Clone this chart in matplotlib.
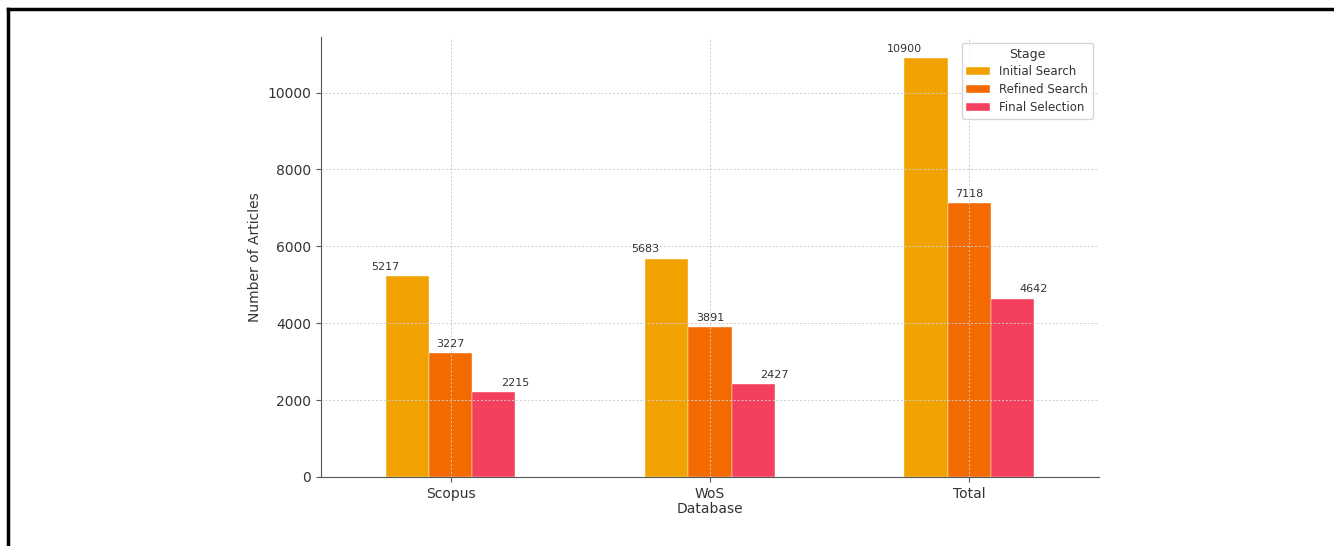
import matplotlib.pyplot as plt
import matplotlib.lines as mlines
import numpy as np

databases = ["Scopus", "WoS", "Total"]
stages = ["Initial Search", "Refined Search", "Final Selection"]
initial = [5217, 5683, 10900]
refined = [3227, 3891, 7118]
final = [2215, 2427, 4642]
colors = ["#F2A200", "#F26A00", "#F43F5E"]

values = [initial, refined, final]
text_col = "#333333"

fig = plt.figure(figsize=(13.34, 5.46), dpi=100)
ax = fig.add_axes([0.2406, 0.1264, 0.5832, 0.8058])

x = np.arange(len(databases))
w = 0.5 / 3
for j, (stage, vals) in enumerate(zip(stages, values)):
    ax.bar(x + (j - 1) * w, vals, width=w, color=colors[j], label=stage,
           edgecolor="white", linewidth=0.3)
    for i, v in enumerate(vals):
        ax.annotate(str(v), (x[i] + (j - 1) * 0.25, v), xytext=(0, 3),
                    textcoords="offset points", ha="center", va="bottom",
                    fontsize=8, color=text_col)

ax.set_xlim(-0.5, 2.5)
ax.set_ylim(0, 11445)
ax.set_xticks(x)
ax.set_xticklabels(databases)
ax.set_yticks([0, 2000, 4000, 6000, 8000, 10000])
ax.tick_params(labelsize=10, colors=text_col)
ax.tick_params(axis="both", color="#555555")
ax.set_xlabel("Database", fontsize=10, color=text_col, labelpad=1)
ax.set_ylabel("Number of Articles", fontsize=10, color=text_col)
ax.grid(True, linestyle=(0, (2, 2)), color="#cccccc", linewidth=0.7)
ax.set_axisbelow(False)
for s in ["top", "right"]:
    ax.spines[s].set_visible(False)
for s in ["left", "bottom"]:
    ax.spines[s].set_color("#555555")

leg = ax.legend(title="Stage", loc="upper right", fontsize=8.5,
                title_fontsize=9, labelspacing=0.4)
for t in leg.get_texts():
    t.set_color(text_col)
leg.get_title().set_color(text_col)

# frame lines at the top and left of the picture
fig.add_artist(mlines.Line2D([0.006, 1.0], [0.984, 0.984], color="black", lw=2.5))
fig.add_artist(mlines.Line2D([0.006, 0.006], [0.0, 0.984], color="black", lw=2.5))

fig.savefig("out.png", dpi=100)
